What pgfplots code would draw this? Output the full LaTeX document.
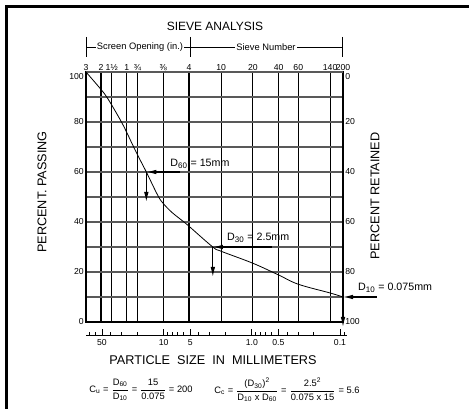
\documentclass[border=0pt]{standalone}
\usepackage{pgfplots}
\pgfplotsset{compat=1.18}
\usepackage{fontspec}
\setmainfont{Liberation Sans}
\usetikzlibrary{arrows.meta}

\newcommand\pxy[2]{({(#1)*0.75pt},{-(#2)*0.75pt})}
\newcommand\fr[2]{$\displaystyle\frac{\hbox{#1}}{\hbox{#2}}$}
\tikzset{dar/.style={line width=0.8pt, -{Latex[length=7.5pt,width=3.4pt]}}}

\pgfplotstableread{
x y
76.2 100
50.8 93
43.6 90
36.5 85.7
29.1 79.8
25.4 75.8
21.3 70.3
18.6 66.2
15 60
11 50.6
9.5 47.4
7.5 43.8
5.44 40
4.75 38.3
2.5 30
2.0 28.3
0.85 23.5
0.425 18.8
0.25 15.1
0.106 11.6
0.075 10
}\gradation

\begin{document}
\begin{tikzpicture}
\useasboundingbox \pxy{0}{0} rectangle \pxy{469}{409};
\fill[black] \pxy{5}{5} rectangle \pxy{469}{8};
\fill[black] \pxy{5}{5} rectangle \pxy{8}{409};

% main axis
\begin{axis}[
  at={(64.5pt,-241.5pt)}, anchor=south west,
  scale only axis, width=192.75pt, height=187.5pt,
  xmode=log, x dir=reverse, xmin=0.075, xmax=76.2,
  ymin=0, ymax=100,
  xtick={76.2,50.8,38.1,25.4,19.05,9.525,4.75,2.0,0.85,0.425,0.25,0.106,0.075},
  xticklabels={3,2,1½,1,¾,⅜,4,10,20,40,60,140,200},
  xticklabel pos=upper,
  ytick={0,10,...,90},
  yticklabels={0,,20,,40,,60,,80,},
  extra y ticks={100},
  extra y tick labels={100},
  extra y tick style={yticklabel style={yshift=-3.5pt}},
  ytick pos=left,
  major tick length=0pt, minor tick length=0pt,
  xmajorgrids, ymajorgrids,
  x grid style={black, line width=0.85pt},
  y grid style={black!65, line width=1.2pt},
  axis line style={black, line width=0.8pt},
  tick label style={font=\fontsize{6.5}{7}\selectfont},
  xticklabel style={inner sep=1pt},
  yticklabel style={inner sep=1.5pt},
  clip=false,
]
\addplot[black, line width=0.6pt, smooth, tension=0.6] table {\gradation};

% D60
\draw[dar] (axis cs:6.06,60) -- (axis cs:15,60);
\draw[dar] (axis cs:15,60) -- (axis cs:15,48);
\node[anchor=west, font=\fontsize{8}{9}\selectfont, inner sep=0pt] at (axis cs:7.9,63.2) {D\textsubscript{60} = 15mm};
% D30
\draw[dar] (axis cs:0.509,30) -- (axis cs:2.5,30);
\draw[dar] (axis cs:2.5,30) -- (axis cs:2.5,18);
\node[anchor=west, font=\fontsize{8}{9}\selectfont, inner sep=0pt] at (axis cs:1.71,33.6) {D\textsubscript{30} = 2.5mm};
% D10
\draw[dar] (axis cs:0.0301,10) -- (axis cs:0.075,10);
\draw[dar] (axis cs:0.075,10) -- (axis cs:0.075,-2);
\node[anchor=west, font=\fontsize{8}{9}\selectfont, inner sep=0pt] at (axis cs:0.0502,13.6) {D\textsubscript{10} = 0.075mm};
\end{axis}

% right axis: percent retained
\begin{axis}[
  at={(64.5pt,-241.5pt)}, anchor=south west,
  scale only axis, width=192.75pt, height=187.5pt,
  xmin=0, xmax=1, ymin=0, ymax=100, y dir=reverse,
  hide x axis, axis y line*=right,
  y axis line style={draw=none},
  ytick={20,40,...,100},
  yticklabels={20,40,60,80,100},
  extra y ticks={0},
  extra y tick labels={0},
  extra y tick style={yticklabel style={yshift=-3.5pt}},
  major tick length=0pt,
  tick label style={font=\fontsize{6.5}{7}\selectfont},
  yticklabel style={inner sep=1.5pt},
]
\addplot[draw=none] coordinates {(0.5,50)};
\end{axis}

% bottom particle size scale
\begin{axis}[
  at={(64.5pt,-251.25pt)}, anchor=south west,
  scale only axis, width=195.75pt, height=1pt,
  xmode=log, x dir=reverse, xmin=0.0833, xmax=75.9,
  ymin=0, ymax=1,
  hide y axis, axis x line=bottom,
  x axis line style={-, line width=0.7pt},
  tick align=inside,
  xtick={50,10,5,1,0.5,0.1},
  xticklabels={50,10,5,1.0,0.5,0.1},
  minor xtick={70,60,40,30,20,9,8,7,6,4,3,2,0.9,0.8,0.7,0.6,0.4,0.3,0.2,0.09},
  major tick length=4.5pt, minor tick length=2.25pt,
  tick style={black, line width=0.6pt},
  tick label style={font=\fontsize{6.5}{7}\selectfont},
]
\addplot[draw=none] coordinates {(1,0.5)};
\end{axis}

% titles and labels
\node[font=\fontsize{9}{10}\selectfont] at \pxy{215}{26} {SIEVE ANALYSIS};
\draw[line width=0.6pt] \pxy{86}{37} -- \pxy{86}{57};
\draw[line width=0.6pt] \pxy{190}{37} -- \pxy{190}{57};
\draw[line width=0.6pt] \pxy{342}{37} -- \pxy{342}{57};
\draw[line width=0.6pt] \pxy{86}{47} -- \pxy{342}{47};
\node[fill=white, inner sep=1pt, font=\fontsize{7}{8}\selectfont] at \pxy{140}{47} {Screen Opening (in.)};
\node[fill=white, inner sep=1pt, font=\fontsize{7}{8}\selectfont] at \pxy{266}{47} {Sieve Number};

\node[rotate=90, font=\fontsize{9.5}{10}\selectfont] at \pxy{42}{192} {PERCENT. PASSING};
\node[rotate=90, font=\fontsize{9.5}{10}\selectfont] at \pxy{375}{196} {PERCENT RETAINED};
\node[font=\fontsize{9.5}{10}\selectfont] at \pxy{213}{360} {PARTICLE\ \ SIZE\ \ IN\ \ MILLIMETERS};

\node[font=\fontsize{7}{8}\selectfont] at \pxy{141}{390} {C\textsubscript{u} = \fr{D\textsubscript{60}}{D\textsubscript{10}} = \fr{15}{0.075} = 200};
\node[font=\fontsize{7}{8}\selectfont] at \pxy{287}{390} {C\textsubscript{c} = \fr{(D\textsubscript{30})\textsuperscript{2}}{D\textsubscript{10} x D\textsubscript{60}} = \fr{2.5\textsuperscript{2}}{0.075 x 15} = 5.6};
\end{tikzpicture}
\end{document}
